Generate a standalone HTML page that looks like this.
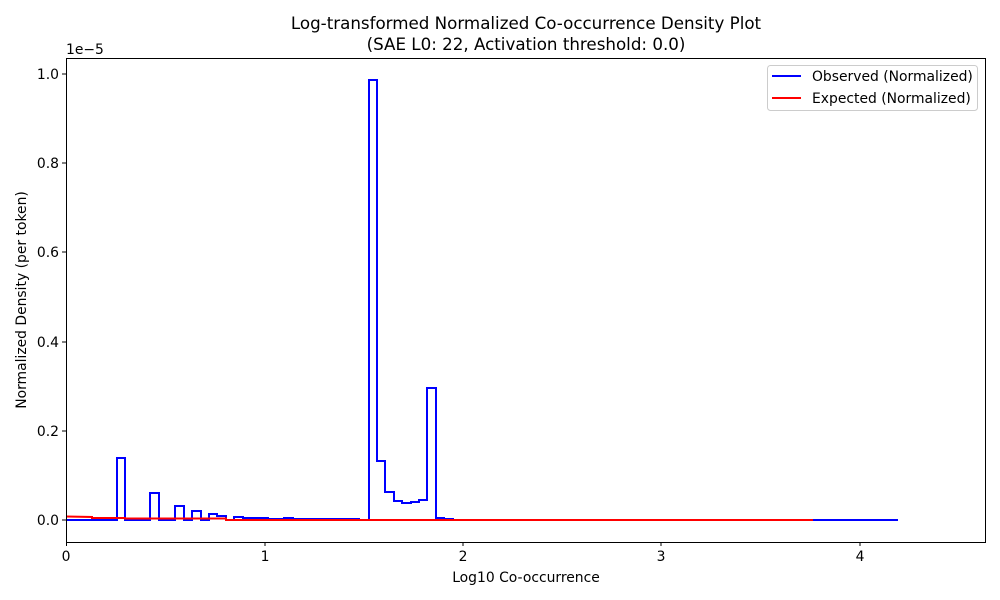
<!DOCTYPE html>
<html><head><meta charset="utf-8"><style>body{margin:0;background:#fff}svg{display:block}text{font-family:"DejaVu Sans","Liberation Sans",sans-serif;fill:#000}</style></head><body>
<svg width="1000" height="600" viewBox="0 0 1000 600">
<rect width="1000" height="600" fill="#fff"/>
<text x="526" y="29" font-size="16.7" text-anchor="middle">Log-transformed Normalized Co-occurrence Density Plot</text>
<text x="526" y="50" font-size="16.7" text-anchor="middle">(SAE L0: 22, Activation threshold: 0.0)</text>
<g fill="none" stroke-width="2" stroke-linejoin="miter">
<polyline stroke="#0000ff" points="66,520 117,520 117,458 125,458 125,520 150,520 150,493 159,493 159,520 175,520 175,506 184,506 184,520 192,520 192,511 201,511 201,520 209,520 209,514 217,514 217,516 226,516 226,520 234,520 234,517 243,517 243,518 268,518 268,519 284,519 284,518 293,518 293,519 359,519 359,520 369,520 369,80 377,80 377,461 385,461 385,492 394,492 394,501 402,501 402,503 411,503 411,502 419,502 419,500 427,500 427,388 436,388 436,518 444,518 444,519 453,519 453,520 898,520"/>
<polyline stroke="#ff0000" points="66,516.5 92,517 92,518 125,518 125,518.5 226,518.5 226,520 813,520"/>
</g>
<rect x="66.5" y="58.5" width="919" height="484" fill="none" stroke="#000" stroke-width="1"/>
<g stroke="#000" stroke-width="1">
<line x1="66.5" y1="542" x2="66.5" y2="546"/><line x1="265" y1="542" x2="265" y2="546"/><line x1="463" y1="542" x2="463" y2="546"/><line x1="661" y1="542" x2="661" y2="546"/><line x1="860" y1="542" x2="860" y2="546"/>
<line x1="62" y1="520" x2="66" y2="520"/><line x1="62" y1="431" x2="66" y2="431"/><line x1="62" y1="342" x2="66" y2="342"/><line x1="62" y1="252" x2="66" y2="252"/><line x1="62" y1="163" x2="66" y2="163"/><line x1="62" y1="74" x2="66" y2="74"/>
</g>
<g font-size="13.9" text-anchor="middle">
<text x="66" y="561">0</text><text x="265" y="561">1</text><text x="463" y="561">2</text><text x="661" y="561">3</text><text x="860" y="561">4</text>
</g>
<g font-size="13.9" text-anchor="end">
<text x="59" y="525">0.0</text><text x="59" y="436">0.2</text><text x="59" y="347">0.4</text><text x="59" y="257">0.6</text><text x="59" y="168">0.8</text><text x="59" y="79">1.0</text>
</g>
<text x="66" y="54" font-size="13.9">1e−5</text>
<text x="526" y="582" font-size="13.9" text-anchor="middle">Log10 Co-occurrence</text>
<text transform="translate(26,300) rotate(-90)" font-size="13.9" text-anchor="middle">Normalized Density (per token)</text>
<rect x="767.5" y="65.5" width="210" height="45" rx="3" fill="#fff" stroke="#ccc"/>
<line x1="772" y1="76" x2="801" y2="76" stroke="#0000ff" stroke-width="2"/>
<line x1="772" y1="98" x2="801" y2="98" stroke="#ff0000" stroke-width="2"/>
<text x="812" y="81" font-size="13.9">Observed (Normalized)</text>
<text x="812" y="103" font-size="13.9">Expected (Normalized)</text>
</svg>
</body></html>
